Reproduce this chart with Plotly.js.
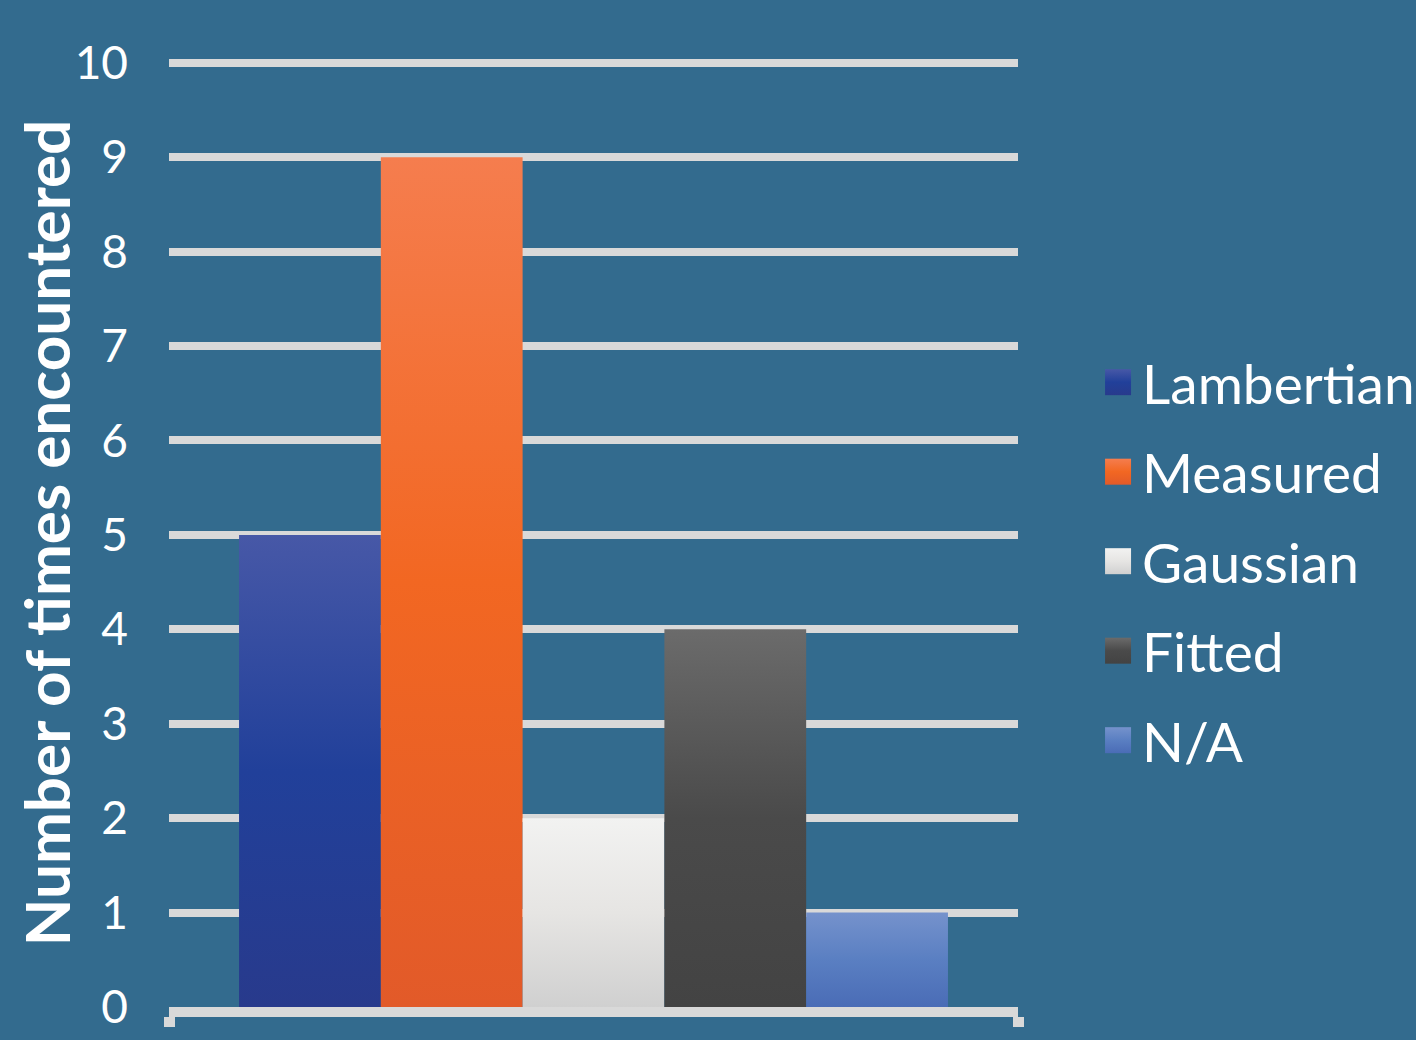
<!DOCTYPE html>
<html>
<head>
<meta charset="utf-8">
<script src="https://cdn.plot.ly/plotly-3.0.1.min.js"></script>
<style>
  html, body { margin: 0; padding: 0; background: #336b8e; }
  #chart { width: 1416px; height: 1040px; }
</style>
</head>
<body>
<div id="chart"></div>
<script>
// ---- data ----
const categories = ['All models'];
const seriesNames = ['Lambertian', 'Measured', 'Gaussian', 'Fitted', 'N/A'];
const seriesValues = [5, 9, 2, 4, 1];
const yTickValues = [0, 1, 2, 3, 4, 5, 6, 7, 8, 9, 10];
const yTitle = 'Number of times encountered';

// ---- styles ----
const baseColors = ['#2b45a0', '#f0662a', '#e6e5e3', '#4c4c4c', '#5a7fc2'];
const gradientStops = [
  ['#4758a7', '#21409a', '#283a8c'],
  ['#f57d4e', '#f26722', '#e25a29'],
  ['#f2f2f1', '#e6e5e3', '#d0d0d0'],
  ['#6b6b6b', '#4a4a4a', '#434343'],
  ['#7592cc', '#5a7fc2', '#4a6cb6']
];
const font = 'Lato, "Open Sans", sans-serif';

const traces = seriesNames.map((name, i) => ({
  type: 'bar',
  name: name,
  x: categories,
  y: [seriesValues[i]],
  legendgroup: 'g' + i,
  marker: { color: baseColors[i], line: { width: 0 } },
  hoverinfo: 'name+y'
}));

const layout = {
  width: 1416,
  height: 1040,
  paper_bgcolor: '#336b8e',
  plot_bgcolor: '#336b8e',
  margin: { l: 169, r: 398, t: 59, b: 33, autoexpand: false },
  barmode: 'group',
  bargap: 0.165,
  bargroupgap: 0,
  font: { family: font, color: '#ffffff' },
  showlegend: true,
  legend: {
    x: 1.099, xanchor: 'left',
    y: 0.47, yanchor: 'middle',
    font: { family: font, size: 55, color: '#ffffff' },
    bgcolor: 'rgba(0,0,0,0)',
    tracegroupgap: 15,
    traceorder: 'grouped'
  },
  xaxis: {
    type: 'category',
    range: [-0.5, 0.5],
    showgrid: false,
    zeroline: false,
    showline: true,
    linecolor: '#d9d9d9',
    linewidth: 10,
    ticks: 'outside',
    tickson: 'boundaries',
    ticklen: 10,
    tickwidth: 11,
    tickcolor: '#d9d9d9',
    showticklabels: false,
    fixedrange: true
  },
  yaxis: {
    range: [0, 10.04],
    tickmode: 'array',
    tickvals: yTickValues,
    ticktext: yTickValues.map(String),
    showgrid: true,
    gridcolor: '#d9d9d9',
    gridwidth: 8,
    zeroline: false,
    showline: false,
    ticks: '',
    ticklabelstandoff: 40,
    tickfont: { family: font, size: 46, color: '#ffffff' },
    automargin: false,
    fixedrange: true,
    title: {
      text: yTitle,
      font: { family: font, size: 62, color: '#ffffff', weight: 'bold' },
      standoff: 0
    }
  }
};

function applyGradients() {
  const gd = document.getElementById('chart');
  const svg = gd.querySelector('svg.main-svg');
  if (!svg) return;
  let defs = svg.querySelector('defs');
  if (!defs) {
    defs = document.createElementNS('http://www.w3.org/2000/svg', 'defs');
    svg.insertBefore(defs, svg.firstChild);
  }
  gradientStops.forEach((stops, i) => {
    const id = 'bargrad' + i;
    if (defs.querySelector('#' + id)) return;
    const lg = document.createElementNS('http://www.w3.org/2000/svg', 'linearGradient');
    lg.setAttribute('id', id);
    lg.setAttribute('x1', '0'); lg.setAttribute('y1', '0');
    lg.setAttribute('x2', '0'); lg.setAttribute('y2', '1');
    [0, 0.5, 1].forEach((off, k) => {
      const s = document.createElementNS('http://www.w3.org/2000/svg', 'stop');
      s.setAttribute('offset', off);
      s.setAttribute('stop-color', stops[k]);
      lg.appendChild(s);
    });
    defs.appendChild(lg);
  });
  gd.querySelectorAll('.barlayer .trace').forEach((tr, i) => {
    tr.querySelectorAll('path').forEach(p => { p.style.fill = 'url(#bargrad' + i + ')'; });
  });
  const legendTraces = gd.querySelectorAll('.legend .traces');
  legendTraces.forEach((lt, i) => {
    lt.querySelectorAll('.legendpoints path').forEach(p => {
      p.style.fill = 'url(#bargrad' + i + ')';
      p.removeAttribute('transform');
      p.setAttribute('d', 'M29,13H3V-13H29Z');
    });
  });
  // nudge the rotated y-axis title toward the tick labels
  gd.querySelectorAll('text').forEach(t => {
    if (t.textContent === yTitle) t.setAttribute('dy', '9');
  });
}

Plotly.newPlot('chart', traces, layout, { displayModeBar: false, staticPlot: false }).then(gd => {
  applyGradients();
  gd.on('plotly_afterplot', applyGradients);
  setTimeout(applyGradients, 50);
});
</script>
</body>
</html>
